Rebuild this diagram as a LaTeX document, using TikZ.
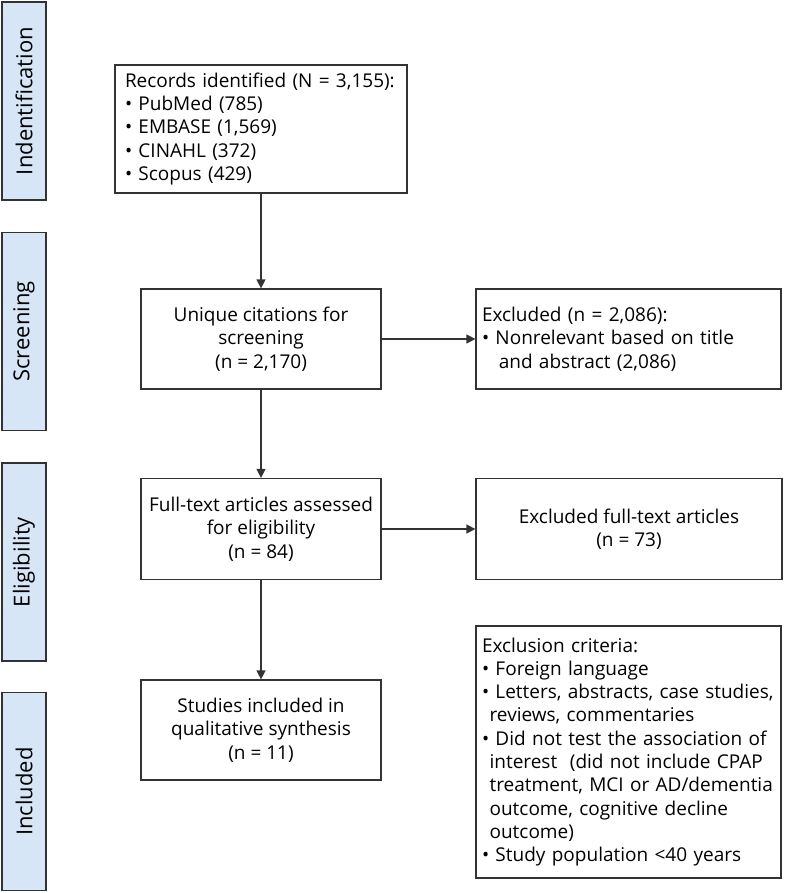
\documentclass[tikz,border=0pt]{standalone}
\usepackage{fontspec}
\setmainfont{Open Sans}
\usetikzlibrary{arrows.meta}
\definecolor{stagefill}{HTML}{D6E6F6}
\definecolor{linegray}{HTML}{333333}
\begin{document}
\begin{tikzpicture}[x=1pt,y=-1pt,
 font=\fontsize{19}{23.3}\selectfont,
 stage/.style={draw=linegray,line width=1.2pt,fill=stagefill,rotate=90,minimum width=198pt,minimum height=44pt,inner sep=0pt,font=\fontsize{22}{26}\selectfont},
 box/.style={draw=linegray,line width=1.2pt,inner ysep=0pt,align=center},
 arrow/.style={-{Triangle[length=9pt,width=9pt]},line width=1.2pt,draw=linegray}]
\useasboundingbox (0,0) rectangle (786,893);
% stages on the left
\node[stage] (ident) at (24,101) {Indentification};
\node[stage] (screen) at (24,331.5) {Screening};
\node[stage] (elig) at (24,562) {Eligibility};
\node[stage] (incl) at (24,791.5) {Included};
% main column
\node[box,align=left,text width=272pt,inner xsep=10pt,minimum height=128pt] (records) at (261,129) {Records identified (N = 3,155):\\\textbullet\ PubMed (785)\\\textbullet\ EMBASE (1,569)\\\textbullet\ CINAHL (372)\\\textbullet\ Scopus (429)};
\node[box,minimum width=240pt,minimum height=100pt] (unique) at (261,339) {Unique citations for\\screening\\(n = 2,170)};
\node[box,minimum width=240pt,minimum height=101pt] (fulltext) at (261,529) {Full-text articles assessed\\for eligibility\\(n = 84)};
\node[box,minimum width=240pt,minimum height=100pt] (studies) at (261,730) {Studies included in\\qualitative synthesis\\(n = 11)};
% right column
\node[box,align=left,text width=293pt,inner xsep=6pt,minimum height=100pt] (excl) at (628.5,339) {Excluded (n = 2,086):\\\textbullet\ Nonrelevant based on title\\\hspace*{0.55em}\ and abstract (2,086)};
\node[box,minimum width=306pt,minimum height=101pt] (exclft) at (629,529) {Excluded full-text articles\\(n = 73)};
\node[box,align=left,text width=293pt,inner xsep=6pt,minimum height=252pt] (criteria) at (628.5,752) {Exclusion criteria:\\\textbullet\ Foreign language\\\textbullet\ Letters, abstracts, case studies,\\\hspace*{0.4em}reviews, commentaries\\\textbullet\ Did not test the association of\\\hspace*{0.4em}interest\ \ (did not include CPAP\\\hspace*{0.4em}treatment, MCI or AD/dementia\\\hspace*{0.4em}outcome, cognitive decline\\\hspace*{0.4em}outcome)\\\textbullet\ Study population <40 years};
\draw[arrow] (records) -- (unique);
\draw[arrow] (unique) -- (excl);
\draw[arrow] (unique) -- (fulltext);
\draw[arrow] (fulltext) -- (exclft);
\draw[arrow] (fulltext) -- (studies);
\end{tikzpicture}
\end{document}
